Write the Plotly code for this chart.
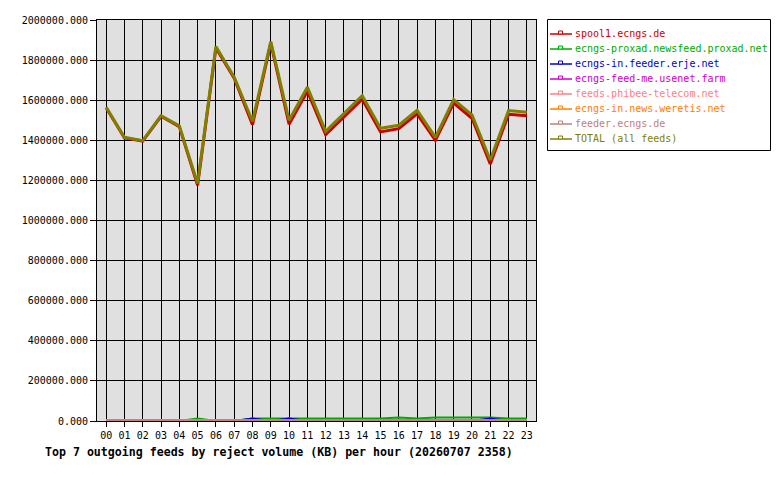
import plotly.graph_objects as go

hours = ["%02d" % h for h in range(24)]

spool1 = [1562000, 1412000, 1396000, 1520000, 1468000, 1175000, 1860000, 1710000,
          1478000, 1885000, 1480000, 1645000, 1428000, 1515000, 1605000, 1442000,
          1458000, 1532000, 1400000, 1585000, 1510000, 1282000, 1530000, 1522000]
proxad = [0, 0, 0, 0, 0, 12500, 0, 0, 12500, 12500, 12500, 12500, 12500, 12500, 12500, 12500,
          17500, 12500, 17500, 17500, 17500, 17500, 12500, 12500]
erje = [0, 0, 0, 0, 0, 0, 0, 0, 12500, 0, 12500, 0, 0, 0, 0, 0,
        0, 0, 0, 0, 0, 12500, 0, 0]
usenetfarm = [0] * 24
phibee = [0] * 24
weretis = [5000] * 24
feeder = [0, 0, 0, 0, 0, 0, 0, 5000, 5000, 5000, 5000, 5000, 5000, 5000, 5000, 5000,
          5000, 5000, 5000, 5000, 5000, 5000, 5000, 5000]
total = [1565000, 1415000, 1398000, 1523000, 1472000, 1185000, 1868000, 1715000,
         1495000, 1892000, 1500000, 1665000, 1445000, 1532000, 1622000, 1460000,
         1475000, 1550000, 1415000, 1603000, 1527000, 1302000, 1548000, 1540000]

names = ["spool1.ecngs.de", "ecngs-proxad.newsfeed.proxad.net", "ecngs-in.feeder.erje.net",
         "ecngs-feed-me.usenet.farm", "feeds.phibee-telecom.net", "ecngs-in.news.weretis.net",
         "feeder.ecngs.de", "TOTAL (all feeds)"]
values = [spool1, proxad, erje, usenetfarm, phibee, weretis, feeder, total]
colors = ["#cc0000", "#00aa00", "#0000cc", "#cc00cc", "#ff8080", "#ff8000", "#c08080", "#808000"]
widths = [3, 2, 2, 2, 2, 2, 2, 3]

FONT = "DejaVu Sans Mono"
W, H = 780, 480
L, R, T, B = 97, 244, 20, 59
PW, PH = W - L - R, H - T - B


def px(x):
    return (x - L) / PW


def py(y):
    return (H - B - y) / PH


fig = go.Figure()
for name, vals, col, wd in zip(names, values, colors, widths):
    fig.add_trace(go.Scatter(
        x=list(range(24)), y=vals, name=name, mode="lines",
        line=dict(color=col, width=wd), showlegend=False,
    ))

shapes = [dict(type="rect", xref="paper", yref="paper",
               x0=px(547.5), x1=px(770.5), y0=py(150.5), y1=py(19.5),
               line=dict(color="black", width=1), fillcolor="white", layer="above")]
annotations = []
for i, (name, col) in enumerate(zip(names, colors)):
    yy = 34 + 15 * i
    shapes.append(dict(type="line", xref="paper", yref="paper",
                       x0=px(550), x1=px(572), y0=py(yy), y1=py(yy),
                       line=dict(color=col, width=1.5), layer="above"))
    shapes.append(dict(type="rect", xref="paper", yref="paper",
                       x0=px(558.5), x1=px(562.5), y0=py(yy), y1=py(yy - 3),
                       line=dict(color=col, width=1), fillcolor="white", layer="above"))
    annotations.append(dict(text=name, xref="paper", yref="paper",
                            x=px(573), y=py(yy - 0.5), xanchor="left", yanchor="middle",
                            showarrow=False, font=dict(family=FONT, size=10, color=col)))

annotations.append(dict(
    text="<b>Top 7 outgoing feeds by reject volume (KB) per hour (20260707 2358)</b>",
    xref="paper", yref="paper", x=px(43), y=py(452),
    xanchor="left", yanchor="middle", showarrow=False,
    font=dict(family=FONT, size=11.6, color="black"),
))

fig.update_layout(
    width=W, height=H,
    margin=dict(l=L, r=R, t=T, b=B, autoexpand=False),
    paper_bgcolor="white", plot_bgcolor="#e0e0e0",
    font=dict(family=FONT, size=10, color="black"),
    showlegend=False,
    xaxis=dict(
        range=[-0.5, 23.5], tickmode="array", tickvals=list(range(24)), ticktext=hours,
        showgrid=True, gridcolor="black", gridwidth=1,
        showline=True, linecolor="black", linewidth=1, mirror=True,
        ticks="outside", ticklen=5, tickcolor="black", zeroline=False,
        tickfont=dict(family=FONT, size=10),
    ),
    yaxis=dict(
        range=[0, 2000000], dtick=200000, tickformat=".3f",
        showgrid=True, gridcolor="black", gridwidth=1,
        showline=True, linecolor="black", linewidth=1, mirror=True,
        ticks="outside", ticklen=6, tickcolor="black", zeroline=False,
        tickfont=dict(family=FONT, size=10),
    ),
    shapes=shapes,
    annotations=annotations,
)

fig.write_html("out.html")
